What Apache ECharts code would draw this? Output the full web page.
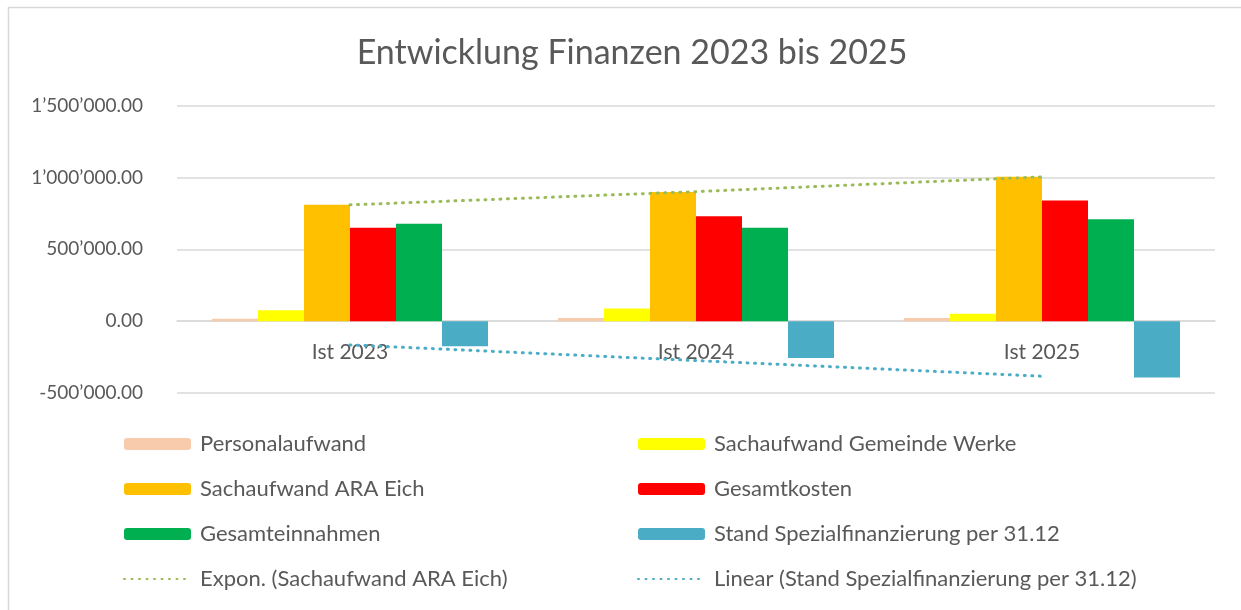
<!DOCTYPE html>
<html>
<head>
<meta charset="utf-8">
<script src="https://cdn.jsdelivr.net/npm/echarts@6/dist/echarts.min.js"></script>
<style>
  html, body { margin: 0; padding: 0; background: #fff; }
  #chart { width: 1241px; height: 610px; }
</style>
</head>
<body>
<div id="chart"></div>
<script>
const categories = ["Ist 2023", "Ist 2024", "Ist 2025"];

const personalaufwand = [17000, 22000, 22000];
const sachaufwandWerke = [76000, 87000, 52000];
const sachaufwandAra = [810000, 898000, 1005000];
const gesamtkosten = [650000, 729000, 840000];
const gesamteinnahmen = [678000, 650000, 708000];
const spezialfinanzierung = [-174000, -257000, -392000];

const yTicks = { min: -500000, max: 1500000, step: 500000 };

const textColor = "#595959";
const font = "Lato";

// Excel trendlines: least squares over x = 1..n
const linearFit = (ys) => {
  const n = ys.length;
  const xs = ys.map((_, i) => i + 1);
  const mx = xs.reduce((a, b) => a + b, 0) / n;
  const my = ys.reduce((a, b) => a + b, 0) / n;
  let sxy = 0, sxx = 0;
  xs.forEach((x, i) => {
    sxy += (x - mx) * (ys[i] - my);
    sxx += (x - mx) * (x - mx);
  });
  const b = sxy / sxx;
  const a = my - b * mx;
  return xs.map((x) => a + b * x);
};
const expFit = (ys) => linearFit(ys.map(Math.log)).map(Math.exp);

const fmt = (v) => {
  const s = Math.abs(v).toFixed(2);
  const [int, dec] = s.split(".");
  const grouped = int.replace(/\B(?=(\d{3})+(?!\d))/g, "\u2019");
  return (v < 0 ? "-" : "") + grouped + "." + dec;
};

const bar = (name, data, color) => ({
  name,
  type: "bar",
  data,
  barWidth: 46,
  barGap: "0%",
  itemStyle: { color },
});

const trend = (name, data, color) => ({
  name,
  type: "line",
  data,
  symbol: "none",
  z: 5,
  lineStyle: { color, width: 3, type: [1, 6.5], cap: "round" },
  itemStyle: { color },
});

const chart = echarts.init(document.getElementById("chart"));

const legendBase = {
  orient: "vertical",
  top: 432,
  padding: 0,
  itemWidth: 67,
  itemHeight: 12,
  itemGap: 21,
  textStyle: {
    color: textColor,
    fontFamily: font,
    fontSize: 22,
    lineHeight: 24,
    padding: [0, 0, 0, 4],
  },
  selectedMode: false,
};

const trendItem = (name) => ({ name, itemStyle: { opacity: 0 } });

chart.setOption({
  backgroundColor: "#fff",
  animation: false,
  title: {
    text: "Entwicklung Finanzen 2023 bis 2025",
    left: 627,
    textAlign: "center",
    top: 31,
    textStyle: { color: textColor, fontFamily: font, fontSize: 34, fontWeight: "normal" },
  },
  graphic: [
    {
      type: "rect",
      shape: { x: 8.5, y: 7.5, width: 1300, height: 700 },
      style: { fill: "none", stroke: "#D9D9D9", lineWidth: 1.5 },
    },
  ],
  legend: [
    Object.assign({}, legendBase, {
      left: 123,
      data: [
        "Personalaufwand",
        "Sachaufwand ARA Eich",
        "Gesamteinnahmen",
        trendItem("Expon. (Sachaufwand ARA Eich)"),
      ],
    }),
    Object.assign({}, legendBase, {
      left: 637,
      data: [
        "Sachaufwand Gemeinde Werke",
        "Gesamtkosten",
        "Stand Spezialfinanzierung per 31.12",
        trendItem("Linear (Stand Spezialfinanzierung per 31.12)"),
      ],
    }),
  ],
  grid: { left: 177, right: 26, top: 105.5, bottom: 217 },
  xAxis: {
    type: "category",
    data: categories,
    offset: -71.875,
    axisTick: { show: false },
    axisLine: { onZero: false, lineStyle: { color: "#D9D9D9", width: 1.5 } },
    axisLabel: { color: textColor, fontFamily: font, fontSize: 21, margin: 21 },
  },
  yAxis: {
    type: "value",
    min: yTicks.min,
    max: yTicks.max,
    interval: yTicks.step,
    axisLine: { show: false },
    axisTick: { show: false },
    splitLine: { lineStyle: { color: "#D9D9D9", width: 1.5 } },
    axisLabel: { color: textColor, fontFamily: font, fontSize: 19, margin: 34, formatter: fmt },
  },
  series: [
    bar("Personalaufwand", personalaufwand, "#F8CBAD"),
    bar("Sachaufwand Gemeinde Werke", sachaufwandWerke, "#FFFF00"),
    bar("Sachaufwand ARA Eich", sachaufwandAra, "#FFC000"),
    bar("Gesamtkosten", gesamtkosten, "#FF0000"),
    bar("Gesamteinnahmen", gesamteinnahmen, "#00B050"),
    bar("Stand Spezialfinanzierung per 31.12", spezialfinanzierung, "#4BACC6"),
    trend("Expon. (Sachaufwand ARA Eich)", expFit(sachaufwandAra), "#9BBB59"),
    trend("Linear (Stand Spezialfinanzierung per 31.12)", linearFit(spezialfinanzierung), "#4BACC6"),
  ],
});
</script>
</body>
</html>
